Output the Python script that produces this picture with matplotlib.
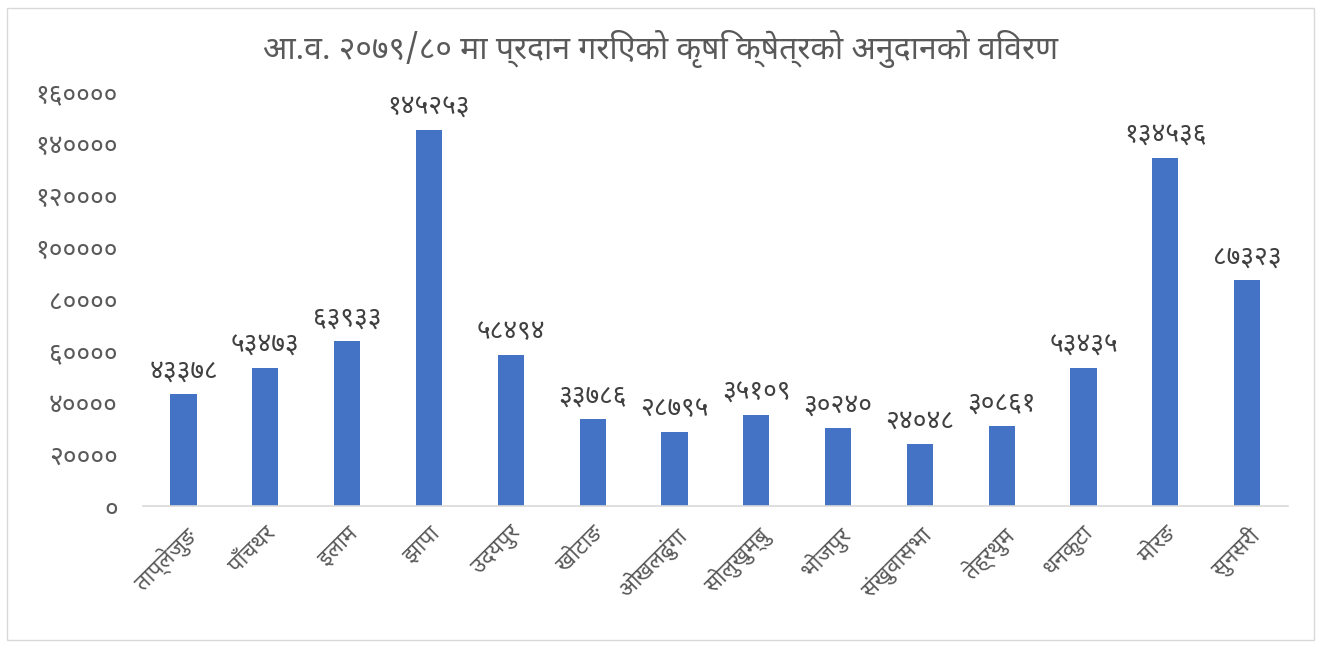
import matplotlib
matplotlib.use("Agg")
import matplotlib.pyplot as plt
from matplotlib import font_manager

districts = ["ताप्लेजुङ", "पाँचथर", "इलाम", "झापा", "उदयपुर", "खोटाङ", "ओखलढुंगा",
             "सोलुखुम्बु", "भोजपुर", "संखुवासभा", "तेह्रथुम", "धनकुटा", "मोरङ", "सुनसरी"]
grants = [43378, 53473, 63933, 145253, 58494, 33786, 28795,
          35109, 30240, 24048, 30861, 53435, 134536, 87323]
title = "आ.व. २०७९/८० मा प्रदान गरिएको कृषि क्षेत्रको अनुदानको विवरण"
yticks = [0, 20000, 40000, 60000, 80000, 100000, 120000, 140000, 160000]

nep_digits = str.maketrans("0123456789", "०१२३४५६७८९")


def nep(n):
    return str(n).translate(nep_digits)


# pick a proper Devanagari face among what is installed
installed = {f.name for f in font_manager.fontManager.ttflist}
wanted = ["Noto Sans Devanagari", "Mukta", "Hind", "Anek Devanagari", "Poppins", "FreeSans"]
deva = next((n for n in wanted if n in installed), None)
plt.rcParams["font.family"] = [deva, "DejaVu Sans"] if deva else ["DejaVu Sans"]

fig = plt.figure(figsize=(13.21, 6.48), dpi=100)
ax = fig.add_axes([0.108, 0.219, 0.867, 0.639])

x = range(len(districts))
bars = ax.bar(x, grants, width=0.32, color="#4472C4")
ax.set_xlim(-0.5, len(districts) - 0.5)
ax.set_ylim(0, 160000)

for b, v in zip(bars, grants):
    ax.annotate(nep(v), (b.get_x() + b.get_width() / 2, v), xytext=(0, 6),
                textcoords="offset points", ha="center", va="bottom",
                fontsize=19, color="#404040")

ax.set_yticks(yticks)
ax.set_yticklabels([nep(t) for t in yticks], fontsize=19, color="#595959")
ax.set_xticks(list(x))
ax.set_xticklabels(districts, rotation=45, ha="right", rotation_mode="anchor",
                   fontsize=16, color="#595959")
ax.tick_params(length=0, axis="x", pad=12)
ax.tick_params(length=0, axis="y", pad=18)

for s in ["top", "right", "left"]:
    ax.spines[s].set_visible(False)
ax.spines["bottom"].set_color("#d9d9d9")
ax.spines["bottom"].set_linewidth(1.2)

fig.text(0.5, 0.925, title, ha="center", va="center", fontsize=23, color="#595959")

fig.patches.append(plt.Rectangle((0.005, 0.012), 0.99, 0.976, transform=fig.transFigure,
                                 fill=False, edgecolor="#d9d9d9", linewidth=1))

fig.savefig("out.png", dpi=100)
